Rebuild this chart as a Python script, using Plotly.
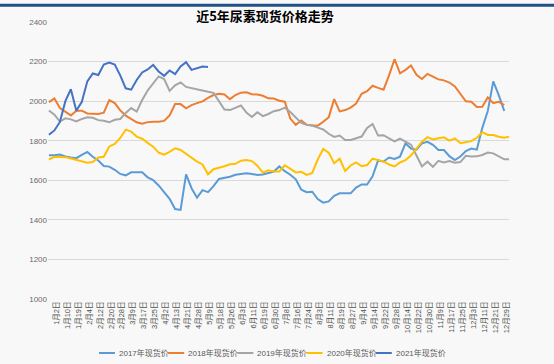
import plotly.graph_objects as go

# ---------------- data ----------------
dates = ["1月2日", "1月10日", "1月19日", "2月4日", "2月12日", "2月20日", "2月28日",
         "3月9日", "3月17日", "3月25日", "4月2日", "4月13日", "4月21日", "4月28日",
         "5月9日", "5月18日", "5月26日", "6月3日", "6月11日", "6月19日", "6月30日",
         "7月8日", "7月16日", "7月24日", "8月3日", "8月11日", "8月19日", "8月27日",
         "9月4日", "9月14日", "9月22日", "9月28日", "10月14日", "10月22日", "10月30日",
         "11月9日", "11月17日", "11月25日", "12月3日", "12月11日", "12月21日", "12月29日"]

names = ["2017年现货价", "2018年现货价", "2019年现货价", "2020年现货价", "2021年现货价"]

# values sampled every 3 trading days (index 0, 3, 6, ...)
y2017 = [1726, 1726, 1730, 1720, 1715, 1712, 1728, 1743, 1719, 1700,
         1672, 1669, 1653, 1632, 1625, 1640, 1640, 1641, 1615, 1601,
         1574, 1538, 1506, 1455, 1450, 1630, 1560, 1512, 1550, 1540,
         1570, 1607, 1611, 1618, 1628, 1633, 1635, 1632, 1627, 1629,
         1637, 1644, 1670, 1646, 1628, 1605, 1552, 1540, 1542, 1505,
         1487, 1493, 1522, 1534, 1534, 1534, 1563, 1579, 1579, 1620,
         1700, 1695, 1715, 1708, 1719, 1787, 1760, 1755, 1787, 1794,
         1779, 1753, 1753, 1722, 1702, 1720, 1748, 1760, 1755, 1865,
         1950, 2100, 2030, 1950]

y2018 = [1995, 2014, 1965, 1946, 1928, 1952, 1952, 1938, 1935, 1935,
         1942, 2005, 1990, 1953, 1927, 1910, 1893, 1886, 1894, 1896,
         1896, 1900, 1928, 1985, 1985, 1964, 1980, 1990, 1999, 2016,
         2031, 2037, 2034, 2010, 2031, 2043, 2045, 2035, 2033, 2027,
         2014, 2013, 2002, 1997, 1912, 1880, 1902, 1880, 1879, 1876,
         1896, 1918, 2010, 1948, 1955, 1967, 1988, 2037, 2050, 2078,
         2067, 2058, 2130, 2212, 2141, 2158, 2180, 2133, 2112, 2138,
         2124, 2110, 2105, 2094, 2074, 2036, 1999, 1997, 1970, 1972,
         2019, 1990, 1997, 1980]

y2019 = [1953, 1932, 1897, 1913, 1908, 1897, 1910, 1918, 1916, 1904,
         1901, 1893, 1906, 1910, 1940, 1965, 1947, 2006, 2054, 2090,
         2125, 2112, 2052, 2080, 2095, 2072, 2065, 2060, 2052, 2048,
         2042, 2000, 1958, 1955, 1968, 1978, 1942, 1920, 1944, 1924,
         1935, 1949, 1955, 1967, 1945, 1917, 1890, 1880, 1876, 1866,
         1857, 1835, 1819, 1826, 1804, 1804, 1811, 1821, 1865, 1885,
         1826, 1828, 1812, 1797, 1810, 1795, 1780, 1725, 1670, 1694,
         1668, 1698, 1690, 1697, 1689, 1692, 1724, 1720, 1721, 1728,
         1740, 1736, 1722, 1706, 1706]

y2020 = [1705, 1719, 1718, 1717, 1710, 1703, 1696, 1689, 1692, 1715,
         1719, 1771, 1784, 1814, 1856, 1846, 1821, 1810, 1789, 1770,
         1740, 1730, 1744, 1762, 1753, 1734, 1717, 1694, 1680, 1630,
         1656, 1662, 1671, 1681, 1683, 1699, 1702, 1697, 1674, 1639,
         1650, 1645, 1645, 1676, 1660, 1640, 1643, 1627, 1637, 1705,
         1758, 1740, 1686, 1709, 1647, 1675, 1690, 1671, 1677, 1709,
         1702, 1695, 1680, 1670, 1690, 1702, 1725, 1758, 1795, 1818,
         1806, 1812, 1817, 1800, 1812, 1787, 1793, 1798, 1815, 1843,
         1829, 1829, 1820, 1815, 1821]

y2021 = [1830, 1852, 1895, 2000, 2060, 1952, 1997, 2100, 2140, 2132,
         2185, 2195, 2185, 2130, 2065, 2058, 2107, 2145, 2160, 2183,
         2150, 2128, 2155, 2137, 2175, 2197, 2158, 2166, 2175, 2172]

colors = ["#5b9bd5", "#ed7d31", "#a5a5a5", "#ffc000", "#4472c4"]

STEP = 3          # trading days between samples
LABEL_EVERY = 6   # trading days between shown date labels
LABEL_OFFSET = 4

# ---------------- figure ----------------
W, H = 554, 364
L, R, T, B = 48, 45, 22, 65
PW, PH = W - L - R, H - T - B


def px(X):
    return (X - L) / PW


def py(Y):
    return (H - B - Y) / PH


fig = go.Figure()
series = [y2017, y2018, y2019, y2020, y2021]
for name, vals, col in zip(names, series, colors):
    fig.add_trace(go.Scatter(
        x=[i * STEP for i in range(len(vals))], y=vals, mode="lines",
        name=name, line=dict(color=col, width=2), showlegend=False,
        hoverinfo="x+y+name"))

tickvals = [LABEL_OFFSET + LABEL_EVERY * k for k in range(len(dates))]

fig.update_xaxes(range=[-0.5, 251.6], tickmode="array", tickvals=tickvals,
                 ticktext=dates, tickangle=-90, showgrid=False, zeroline=False,
                 showline=False, ticks="", automargin=False,
                 tickfont=dict(size=7.5, color="#505050",
                               family="Liberation Sans, Noto Sans CJK SC"))
fig.update_yaxes(range=[1000, 2400], dtick=200, showgrid=True,
                 gridcolor="#d9d9d9", gridwidth=1, zeroline=False,
                 showline=False, ticks="", automargin=False,
                 tickfont=dict(size=8, color="#6a6a6a", family="Liberation Sans"))

shapes = []
annotations = []
# top dark band
shapes.append(dict(type="line", xref="paper", yref="paper",
                   x0=px(0), x1=px(W), y0=py(5.3), y1=py(5.3),
                   line=dict(color="#1f5086", width=3)))

# custom legend
leg_y = 353
for k, (name, col) in enumerate(zip(names, colors)):
    x0 = 99 + 69.2 * k
    shapes.append(dict(type="line", xref="paper", yref="paper",
                       x0=px(x0), x1=px(x0 + 16), y0=py(leg_y), y1=py(leg_y),
                       line=dict(color=col, width=2)))
    annotations.append(dict(xref="paper", yref="paper", x=px(x0 + 18), y=py(leg_y),
                            xanchor="left", yanchor="middle", showarrow=False,
                            text=name,
                            font=dict(size=8, color="#595959",
                                      family="Liberation Sans, Noto Sans CJK SC")))

fig.update_layout(
    width=W, height=H,
    margin=dict(l=L, r=R, t=T, b=B, pad=0),
    paper_bgcolor="#f8f8f8", plot_bgcolor="#f8f8f8",
    title=dict(text="<b>近5年尿素现货价格走势</b>", x=265 / W, xanchor="center",
               y=1 - 16 / H, yanchor="middle", xref="container", yref="container",
               font=dict(size=13, color="#000000", family="Noto Sans CJK SC")),
    shapes=shapes, annotations=annotations,
    showlegend=False,
)

fig.write_html("out.html",
               config={"displayModeBar": False},
               post_script="document.body.style.margin='0';"
                           "document.body.style.padding='0';"
                           "document.body.style.background='#f8f8f8';")
